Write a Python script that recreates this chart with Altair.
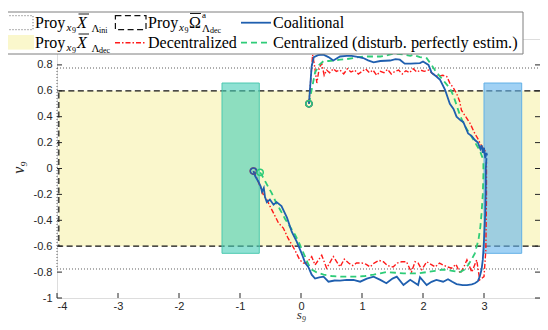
import altair as alt
import pandas as pd

# ---------------- data ----------------
coal_up_s = [0.13, 0.175, 0.21, 0.28, 0.36, 0.45, 0.53, 0.64, 0.75, 0.83, 0.95, 1.02, 1.10, 1.19, 1.30, 1.46, 1.55, 1.62, 1.70, 1.80, 1.95, 2.0, 2.09, 2.14, 2.22, 2.28, 2.36, 2.44, 2.50, 2.55, 2.62, 2.66, 2.74, 2.80, 2.85, 2.90, 2.94, 2.96, 2.98, 3.00, 3.02, 3.04, 3.05]
coal_up_v = [0.50, 0.79, 0.86, 0.875, 0.88, 0.86, 0.834, 0.865, 0.87, 0.87, 0.86, 0.853, 0.835, 0.82, 0.83, 0.834, 0.845, 0.84, 0.81, 0.81, 0.814, 0.826, 0.80, 0.74, 0.71, 0.685, 0.61, 0.50, 0.46, 0.40, 0.37, 0.36, 0.27, 0.25, 0.22, 0.20, 0.15, 0.18, 0.12, 0.16, 0.08, 0.12, 0.10]

coal_low_s = [-0.78, -0.75, -0.70, -0.66, -0.64, -0.61, -0.59, -0.56, -0.51, -0.45, -0.40, -0.32, -0.23, -0.15, -0.07, 0.01, 0.07, 0.12, 0.175, 0.23, 0.30, 0.37, 0.45, 0.55, 0.64, 0.75, 0.86, 0.97, 1.08, 1.19, 1.30, 1.40, 1.50, 1.57, 1.68, 1.79, 1.92, 1.95, 2.06, 2.14, 2.22, 2.33, 2.41, 2.48, 2.55, 2.65, 2.72, 2.80, 2.85, 2.90, 2.93, 2.96, 2.98, 3.00, 3.02, 3.03, 3.03, 3.04]
coal_low_v = [-0.02, -0.06, -0.10, -0.14, -0.18, -0.15, -0.22, -0.26, -0.24, -0.28, -0.26, -0.29, -0.38, -0.49, -0.565, -0.655, -0.73, -0.76, -0.82, -0.85, -0.84, -0.835, -0.874, -0.865, -0.866, -0.86, -0.861, -0.874, -0.85, -0.835, -0.86, -0.886, -0.85, -0.835, -0.90, -0.86, -0.90, -0.84, -0.90, -0.875, -0.86, -0.874, -0.855, -0.875, -0.892, -0.90, -0.90, -0.895, -0.886, -0.87, -0.835, -0.78, -0.706, -0.55, -0.35, -0.15, 0.0, 0.08]

dec_up_s = [0.13, 0.17, 0.19, 0.22, 0.26, 0.30, 0.34, 0.38, 0.42, 0.47, 0.53, 0.58, 0.64, 0.70, 0.76, 0.82, 0.88, 0.94, 1.00, 1.06, 1.12, 1.18, 1.24, 1.30, 1.36, 1.42, 1.48, 1.54, 1.60, 1.66, 1.72, 1.78, 1.84, 1.90, 1.96, 2.02, 2.09, 2.16, 2.25, 2.32, 2.39, 2.44, 2.50, 2.55, 2.60, 2.63, 2.70, 2.77, 2.85, 2.90, 2.93, 2.98, 3.01, 3.04]
dec_up_v = [0.50, 0.75, 0.878, 0.80, 0.66, 0.78, 0.81, 0.72, 0.76, 0.74, 0.77, 0.75, 0.76, 0.73, 0.77, 0.745, 0.76, 0.73, 0.75, 0.77, 0.74, 0.76, 0.72, 0.75, 0.74, 0.765, 0.73, 0.75, 0.76, 0.73, 0.755, 0.74, 0.77, 0.745, 0.76, 0.75, 0.76, 0.73, 0.71, 0.72, 0.71, 0.66, 0.62, 0.58, 0.52, 0.45, 0.40, 0.35, 0.27, 0.23, 0.20, 0.16, 0.14, 0.12]

dec_low_s = [-0.78, -0.72, -0.66, -0.62, -0.56, -0.51, -0.45, -0.37, -0.29, -0.21, -0.10, -0.02, 0.04, 0.09, 0.175, 0.23, 0.34, 0.42, 0.53, 0.64, 0.71, 0.78, 0.85, 0.91, 1.0, 1.07, 1.13, 1.20, 1.28, 1.35, 1.42, 1.51, 1.58, 1.65, 1.73, 1.81, 1.87, 1.92, 1.98, 2.06, 2.13, 2.20, 2.27, 2.33, 2.40, 2.47, 2.54, 2.61, 2.67, 2.72, 2.80, 2.88, 2.93, 3.0, 3.03, 3.04, 3.04]
dec_low_v = [-0.02, -0.08, -0.15, -0.20, -0.24, -0.29, -0.345, -0.42, -0.46, -0.54, -0.63, -0.706, -0.73, -0.73, -0.68, -0.745, -0.67, -0.77, -0.68, -0.76, -0.70, -0.73, -0.75, -0.73, -0.73, -0.74, -0.76, -0.73, -0.71, -0.72, -0.75, -0.76, -0.73, -0.72, -0.72, -0.80, -0.72, -0.73, -0.78, -0.72, -0.74, -0.76, -0.73, -0.745, -0.76, -0.77, -0.74, -0.81, -0.76, -0.706, -0.80, -0.706, -0.86, -0.835, -0.63, -0.24, 0.05]

cen_up_s = [0.13, 0.18, 0.23, 0.30, 0.37, 0.45, 0.53, 0.64, 0.75, 0.88, 1.02, 1.15, 1.30, 1.42, 1.51, 1.57, 1.68, 1.79, 1.84, 1.95, 2.06, 2.14, 2.21, 2.28, 2.36, 2.44, 2.50, 2.55, 2.60, 2.66, 2.75, 2.83, 2.88, 2.93, 2.97, 2.99]
cen_up_v = [0.50, 0.62, 0.74, 0.80, 0.83, 0.83, 0.834, 0.84, 0.845, 0.855, 0.865, 0.865, 0.865, 0.875, 0.886, 0.886, 0.88, 0.87, 0.878, 0.86, 0.852, 0.80, 0.75, 0.71, 0.665, 0.62, 0.56, 0.49, 0.42, 0.35, 0.28, 0.22, 0.18, 0.14, 0.09, 0.066]

cen_low_s = [-0.67, -0.62, -0.54, -0.48, -0.40, -0.34, -0.26, -0.18, -0.10, -0.04, 0.02, 0.066, 0.12, 0.175, 0.25, 0.37, 0.50, 0.65, 0.80, 0.91, 1.05, 1.19, 1.30, 1.40, 1.55, 1.68, 1.80, 1.92, 2.06, 2.20, 2.33, 2.48, 2.61, 2.68, 2.74, 2.80, 2.85, 2.91, 2.94, 2.96, 2.98, 2.99, 2.99]
cen_low_v = [-0.03, -0.07, -0.14, -0.19, -0.27, -0.32, -0.39, -0.45, -0.51, -0.565, -0.63, -0.68, -0.74, -0.78, -0.80, -0.82, -0.83, -0.835, -0.835, -0.835, -0.83, -0.82, -0.81, -0.80, -0.805, -0.81, -0.81, -0.81, -0.80, -0.79, -0.78, -0.79, -0.80, -0.78, -0.745, -0.70, -0.655, -0.55, -0.45, -0.345, -0.20, -0.05, 0.06]

# sets (projections)
ini_s = [-4.0, 4.0]
ini_v = [-0.776, 0.776]
dec_set_s = [-3.97, 3.98]
dec_set_v = [-0.6, 0.6]
green_box_s = [-1.295, -0.684]
blue_box_s = [3.0, 3.618]
box_v = [-0.655, 0.66]

x_domain = [-4, 3.918]   # the right end of the axis (s = 4) sits at the window edge
y_domain = [-1, 1]
xtick_vals = [-4, -3, -2, -1, 0, 1, 2, 3]
ytick_vals = [-1, -0.8, -0.6, -0.4, -0.2, 0, 0.2, 0.4, 0.6, 0.8]

# ---------------- build tables ----------------
def seg(series, part, s, v):
    return pd.DataFrame({"s": s, "v": v, "series": series,
                         "seg": f"{series}-{part}", "k": list(range(len(s)))})

traj = pd.concat([
    seg("Decentralized", "up", dec_up_s, dec_up_v),
    seg("Decentralized", "low", dec_low_s, dec_low_v),
    seg("Centralized", "up", cen_up_s, cen_up_v),
    seg("Centralized", "low", cen_low_s, cen_low_v),
    seg("Coalitional", "up", coal_up_s, coal_up_v),
    seg("Coalitional", "low", coal_low_s, coal_low_v),
], ignore_index=True)
starts = traj[traj["k"] == 0].copy()
starts["z"] = starts["series"].map({"Decentralized": 0, "Coalitional": 1, "Centralized": 2})
starts = starts.sort_values("z")

W, H = 483, 259
xs = alt.Scale(domain=x_domain, nice=False, zero=False, padding=0)
ys = alt.Scale(domain=y_domain, nice=False, zero=False, padding=0)
DARK = "#262626"

xaxis = alt.Axis(values=xtick_vals, ticks=False, domain=False, grid=False,
                 labelFont="Liberation Sans", labelFontSize=11, labelColor=DARK,
                 labelPadding=2, labelExpr="'' + datum.value",
                 title="s₉", titleFont="Liberation Serif", titleFontStyle="italic",
                 titleFontWeight="normal", titleFontSize=13, titleColor=DARK,
                 titleX=244, titleY=20, titleBaseline="alphabetic")
yaxis = alt.Axis(values=ytick_vals, ticks=False, domain=False, grid=False,
                 labelFont="Liberation Sans", labelFontSize=11, labelColor=DARK,
                 labelPadding=5, labelExpr="'' + datum.value",
                 title="v₉", titleFont="Liberation Serif", titleFontStyle="italic",
                 titleFontWeight="normal", titleFontSize=16, titleColor=DARK,
                 titleX=-34, titleY=128, titleAngle=270, titleBaseline="alphabetic")

X = alt.X("s:Q", scale=xs, axis=xaxis)
Y = alt.Y("v:Q", scale=ys, axis=yaxis)

def rect_df(s, v):
    return pd.DataFrame({"s": [s[0]], "s2": [s[1]], "v": [v[0]], "v2": [v[1]]})

def rect_layer(df, **kw):
    return alt.Chart(df).mark_rect(**kw).encode(
        x=X, x2="s2:Q", y=Y, y2="v2:Q")

yellow = rect_layer(rect_df(dec_set_s, dec_set_v), fill="#FAF7CC")
ini_box = rect_layer(rect_df(ini_s, ini_v), filled=False, stroke="#333333",
                     strokeWidth=0.8, strokeDash=[1, 2])
dec_box = rect_layer(rect_df(dec_set_s, dec_set_v), filled=False, stroke="#111111",
                     strokeWidth=1.2, strokeDash=[6, 3.5])
green_box = rect_layer(rect_df(green_box_s, box_v), fill="#45CDB5", fillOpacity=0.6,
                       stroke="#4CC9B0", strokeWidth=1)
blue_box = rect_layer(rect_df(blue_box_s, box_v), fill="#61B3ED", fillOpacity=0.6,
                      stroke="#62B0E6", strokeWidth=1)

styles = {
    "Decentralized": dict(color="#FF1A1A", strokeWidth=1.4, strokeDash=[5, 2, 1.5, 2]),
    "Centralized": dict(color="#2ECC78", strokeWidth=1.8, strokeDash=[6, 4]),
    "Coalitional": dict(color="#1F5FAF", strokeWidth=1.8),
}
line_layers = []
for name in ["Decentralized", "Centralized", "Coalitional"]:
    line_layers.append(
        alt.Chart(traj).transform_filter(alt.datum.series == name)
        .mark_line(**styles[name])
        .encode(x=X, y=Y, detail="seg:N", order="k:Q")
    )

markers = alt.Chart(starts).mark_point(filled=False, size=40, strokeWidth=1.5, opacity=1).encode(
    x=X, y=Y,
    color=alt.Color("series:N", legend=None,
                    scale=alt.Scale(domain=["Decentralized", "Centralized", "Coalitional"],
                                    range=["#FF1A1A", "#2ECC78", "#1F5FAF"])),
    order="z:Q")

# ---------------- tick marks (inward, like the original) ----------------
xt = pd.DataFrame({"s": xtick_vals})
yt = pd.DataFrame({"v": ytick_vals})
tick_kw = dict(color=DARK, strokeWidth=1)
ticks = [
    alt.Chart(xt).mark_rule(**tick_kw).encode(x=X, y=alt.value(H), y2=alt.value(H - 5)),
    alt.Chart(xt).mark_rule(**tick_kw).encode(x=X, y=alt.value(0), y2=alt.value(5)),
    alt.Chart(yt).mark_rule(**tick_kw).encode(y=Y, x=alt.value(0), x2=alt.value(5)),
    alt.Chart(yt).mark_rule(**tick_kw).encode(y=Y, x=alt.value(W), x2=alt.value(W - 5)),
]

# ---------------- custom legend ----------------
one = alt.Data(values=[{"a": 1}])
leg = []
leg.append(alt.Chart(one).mark_rect(fill="white", stroke="#7F7F7F", strokeWidth=1).encode(
    x=alt.value(-55), x2=alt.value(466), y=alt.value(-27), y2=alt.value(15)))
leg.append(alt.Chart(one).mark_rect(filled=False, stroke="#333333", strokeWidth=0.8,
                                    strokeDash=[1, 2]).encode(
    x=alt.value(-53.5), x2=alt.value(-24), y=alt.value(-23.3), y2=alt.value(-9.3)))
leg.append(alt.Chart(one).mark_rect(fill="#FAF7CC").encode(
    x=alt.value(-53.5), x2=alt.value(-23), y=alt.value(-4), y2=alt.value(10.6)))
leg.append(alt.Chart(one).mark_rect(filled=False, stroke="#111111", strokeWidth=1.2,
                                    strokeDash=[6, 3.5]).encode(
    x=alt.value(58.4), x2=alt.value(89), y=alt.value(-23.3), y2=alt.value(-9.3)))
for x1, x2, yy, name in [(58, 89, 3.7, "Decentralized"), (184, 214, -16.3, "Coalitional"),
                         (184, 214, 3.7, "Centralized")]:
    st = styles[name]
    kw = dict(color=st["color"], strokeWidth=st["strokeWidth"])
    if "strokeDash" in st:
        kw["strokeDash"] = st["strokeDash"]
    leg.append(alt.Chart(one).mark_rule(**kw).encode(
        x=alt.value(x1), x2=alt.value(x2), y=alt.value(yy)))

for x1, x2, yy in [(21.5, 32, -25), (21.5, 32, -5), (133, 144, -25.5)]:
    leg.append(alt.Chart(one).mark_rule(color="black", strokeWidth=0.9).encode(
        x=alt.value(x1), x2=alt.value(x2), y=alt.value(yy)))

pieces = []
for row, sub in [(0, "ini"), (20, "dec")]:
    b = -11 + row
    pieces += [("Proy", -22, b, 16, "normal"), ("x", 9.5, b + 3, 11, "italic"),
               ("9", 15, b + 5, 8, "normal"), ("X", 20, b, 16, "italic"),
               ("Λ", 34.5, b + 3.5, 11, "normal"), (sub, 42, b + 5, 8, "normal")]
pieces += [("Proy", 91, -11, 16, "normal"), ("x", 122, -8, 11, "italic"),
           ("9", 127.5, -6, 8, "normal"), ("Ω", 132, -11, 16, "normal"),
           ("a", 145, -21, 9, "normal"), ("Λ", 145, -7.5, 11, "normal"),
           ("dec", 153, -6, 8, "normal"),
           ("Decentralized", 91, 9, 16, "normal"),
           ("Coalitional", 216, -11, 16, "normal"),
           ("Centralized (disturb. perfectly estim.)", 216, 9, 16.3, "normal")]
for t, px, py, sz, stl in pieces:
    leg.append(alt.Chart(one).mark_text(text=t, align="left", baseline="alphabetic",
                                        font="Liberation Serif", fontSize=sz, fontStyle=stl,
                                        color="black").encode(
        x=alt.value(px), y=alt.value(py)))

chart = alt.layer(
    yellow, ini_box, dec_box, green_box, blue_box, *line_layers, markers, *ticks, *leg
).properties(
    width=W, height=H,
    autosize=alt.AutoSizeParams(type="none"),
    padding={"left": 49, "top": 31, "right": 0, "bottom": 24},
).configure_view(stroke=DARK, strokeWidth=1).configure(background="white")

chart.save("out.html", embed_options={"renderer": "svg", "actions": False})
